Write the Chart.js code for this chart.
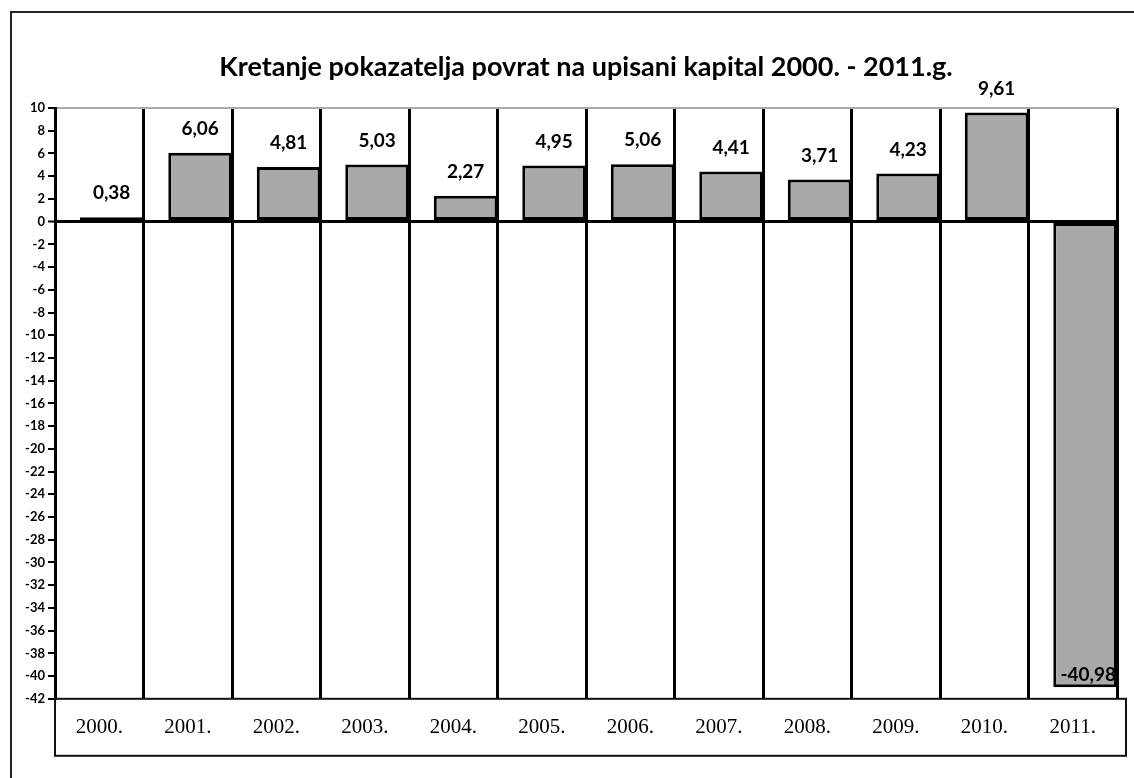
<!DOCTYPE html>
<html>
<head>
<meta charset="utf-8">
<script src="https://cdn.jsdelivr.net/npm/chart.js@4.4.1/dist/chart.umd.min.js"></script>
<style>
  html, body { margin: 0; padding: 0; background: #fff; }
  #wrap { width: 1134px; height: 778px; position: relative; }
</style>
</head>
<body>
<div id="wrap"><canvas id="povrat"></canvas></div>
<script>
// podaci
const naslov = 'Kretanje pokazatelja povrat na upisani kapital 2000. - 2011.g.';
const godine = ['2000.', '2001.', '2002.', '2003.', '2004.', '2005.', '2006.', '2007.', '2008.', '2009.', '2010.', '2011.'];
const povrat = [0.38, 6.06, 4.81, 5.03, 2.27, 4.95, 5.06, 4.41, 3.71, 4.23, 9.61, -40.98];
const yMin = -42;
const yMax = 10;
const yKorak = 2;

// stupci stoje uz desni rub svoje kategorije
const sirinaStupca = 0.72;
const pomak = 1 - sirinaStupca / 2;

const ctx = document.getElementById('povrat');

// okvir, naslov, kutija za godine i oznake vrijednosti
const crtanje = {
  id: 'crtanje',
  beforeDraw(chart) {
    const c = chart.ctx;
    c.save();
    c.fillStyle = '#fff';
    c.fillRect(0, 0, chart.width, chart.height);
    c.strokeStyle = '#222';
    c.lineWidth = 2;
    c.beginPath();
    c.moveTo(11, chart.height);
    c.lineTo(11, 12);
    c.lineTo(chart.width, 12);
    c.stroke();
    c.restore();
  },
  afterDatasetsDraw(chart) {
    const c = chart.ctx;
    const meta = chart.getDatasetMeta(0);
    c.save();
    c.fillStyle = '#000';
    c.font = 'bold 19px Lato';
    meta.data.forEach((bar, i) => {
      const v = povrat[i];
      const txt = v.toFixed(2).replace('.', ',');
      c.textBaseline = 'middle';
      if (v >= 0) {
        c.textAlign = 'center';
        c.fillText(txt, bar.x, bar.y - 24);
      } else {
        c.textAlign = 'right';
        c.fillText(txt, bar.x + bar.width / 2 - 1, bar.y - 12);
      }
    });
    c.restore();
  },
  afterDraw(chart) {
    const c = chart.ctx;
    const a = chart.chartArea;
    c.save();
    c.strokeStyle = '#111';
    c.lineWidth = 2;
    c.strokeRect(a.left, a.bottom, a.right - a.left + 9, 57);
    // naslov centriran iznad podrucja grafa
    c.fillStyle = '#000';
    c.font = 'bold 27px Lato';
    c.textAlign = 'center';
    c.textBaseline = 'middle';
    c.fillText(naslov, (a.left + a.right) / 2, 67);
    c.restore();
  }
};

new Chart(ctx, {
  type: 'bar',
  data: {
    labels: godine,
    datasets: [{
      label: 'Povrat na upisani kapital',
      data: povrat.map((v, i) => ({ x: i + pomak, y: v })),
      xAxisID: 'xb',
      yAxisID: 'y',
      backgroundColor: '#a9a9a9',
      borderColor: '#000',
      borderWidth: 3,
      borderSkipped: false,
      categoryPercentage: sirinaStupca,
      barPercentage: 1
    }]
  },
  options: {
    responsive: true,
    maintainAspectRatio: false,
    animation: false,
    layout: {
      padding: { top: 108, left: 10, right: 17, bottom: 22 }
    },
    scales: {
      x: {
        type: 'category',
        position: 'bottom',
        offset: true,
        grid: {
          offset: true,
          drawTicks: false,
          color: (c) => c.index === 0 ? 'rgba(0,0,0,0)' : (c.index === godine.length ? '#aaa' : '#000'),
          lineWidth: (c) => c.index === godine.length ? 2 : 3
        },
        border: { display: false },
        ticks: {
          color: '#000',
          padding: 16,
          font: { family: 'Liberation Serif', size: 21 }
        }
      },
      xb: {
        type: 'linear',
        axis: 'x',
        position: 'bottom',
        display: false,
        offset: false,
        min: 0,
        max: godine.length,
        grid: { offset: false }
      },
      y: {
        min: yMin,
        max: yMax,
        afterFit(scale) { scale.width = 45; },
        ticks: {
          stepSize: yKorak,
          color: '#000',
          padding: 3,
          font: { family: 'Lato', size: 13, weight: 'bold' }
        },
        grid: {
          drawTicks: true,
          tickLength: 7,
          tickColor: '#000',
          tickWidth: 2,
          color: (c) => c.tick.value === 0 ? '#000' : (c.tick.value === yMax ? '#aaa' : 'rgba(0,0,0,0)'),
          lineWidth: (c) => c.tick.value === 0 ? 3 : 2
        },
        border: { color: '#000', width: 3 }
      }
    },
    plugins: {
      legend: { display: false },
      tooltip: { enabled: false },
      title: { display: false }
    }
  },
  plugins: [crtanje]
});
</script>
</body>
</html>
